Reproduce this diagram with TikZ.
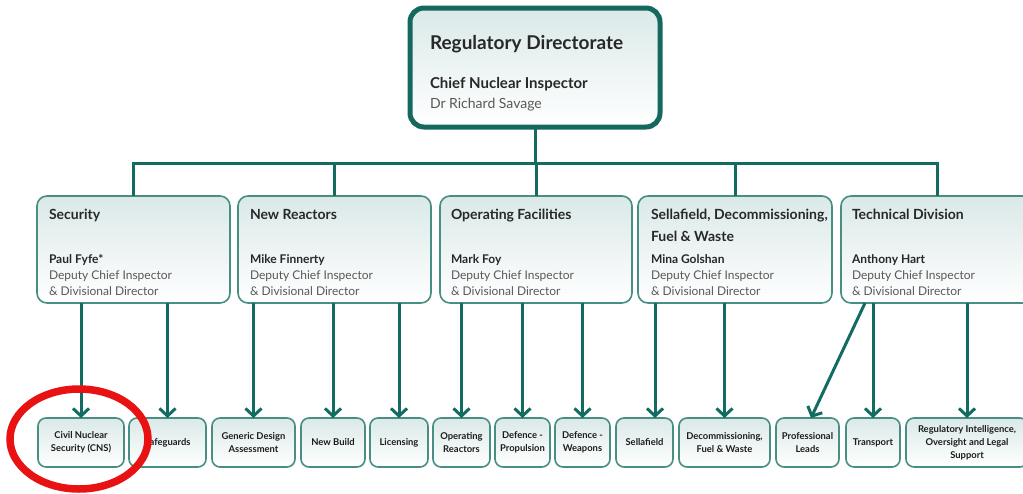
\documentclass[tikz,border=0pt]{standalone}
\usepackage{fontspec}
\setmainfont{Lato}
\usetikzlibrary{arrows.meta}

\definecolor{linkteal}{RGB}{18,108,98}
\definecolor{edgeteal}{RGB}{72,142,130}
\definecolor{headedge}{RGB}{20,104,94}
\definecolor{boxtint}{RGB}{218,233,232}
\definecolor{inkdark}{RGB}{40,40,40}
\definecolor{inkunit}{RGB}{28,28,28}
\definecolor{inkgrey}{RGB}{88,88,88}
\definecolor{ringred}{RGB}{232,18,18}

\tikzset{
  headbox/.style={draw=headedge, line width=5pt, rounded corners=14pt,
    top color=boxtint, bottom color=white, inner sep=0pt, outer sep=0pt},
  divbox/.style={draw=edgeteal, line width=1.6pt, rounded corners=10pt,
    top color=boxtint, bottom color=white, minimum height=107pt,
    inner sep=0pt, outer sep=0pt},
  lowbox/.style={draw=edgeteal, line width=1.6pt, rounded corners=8pt,
    top color=boxtint, bottom color=white, minimum height=49pt,
    inner sep=0pt, outer sep=0pt, align=center, text=inkunit,
    font=\fontsize{9.4}{13.2}\selectfont\bfseries},
  link/.style={draw=linkteal, line width=3pt},
  arrowlink/.style={link, -{Straight Barb[length=7.5pt,width=16pt]}},
  txt/.style={anchor=base west, inner sep=0pt, outer sep=0pt},
  headtitle/.style={txt, font=\fontsize{19}{22}\selectfont\bfseries, text=inkdark},
  headrole/.style={txt, font=\fontsize{15}{18}\selectfont\bfseries, text=inkdark},
  headname/.style={txt, font=\fontsize{14}{17}\selectfont, text=inkgrey},
  divtitle/.style={txt, font=\fontsize{14}{16}\selectfont\bfseries, text=inkdark},
  divname/.style={txt, font=\fontsize{12}{14}\selectfont\bfseries, text=inkdark},
  divrole/.style={txt, font=\fontsize{12}{14}\selectfont, text=inkgrey},
}

% a division box from x=#2 to x=#3
\newcommand\divisionbox[3]{%
  \node[divbox, minimum width={#3-#2}] (#1) at ({(#2+#3)/2},249.5) {};}
% a unit box from x=#2 to x=#3
\newcommand\unitbox[4]{%
  \node[lowbox, minimum width={#3-#2}] (#1) at ({(#2+#3)/2},442.5) {#4};}

\begin{document}
\begin{tikzpicture}[x=1pt, y=-1pt]
\useasboundingbox (0,0) rectangle (1023,493);
\clip (0,0) rectangle (1023,493);
\fill[white] (0,0) rectangle (1023,493);

% directorate
\node[headbox, minimum width=250pt, minimum height=119pt] (dir) at (535,67.5) {};
\node[headtitle] (dirt) at (430,49) {Regulatory Directorate};
\node[headrole] (dirr) at (430,88) {Chief Nuclear Inspector};
\node[headname] (dirn) at (430,108) {Dr Richard Savage};

% divisions
\divisionbox{sec}{37}{230}
\divisionbox{nrx}{238}{431}
\divisionbox{opf}{440}{632}
\divisionbox{sdf}{638}{832}
\divisionbox{tec}{841}{1034}

\node[divtitle] (sect) at (49,219) {Security};
\node[divname]  (secn) at (49,263) {Paul Fyfe*};
\node[divrole]  (secr) at (49,279) {Deputy Chief Inspector};
\node[divrole]  (secd) at (49,295) {\& Divisional Director};

\node[divtitle] (nrxt) at (250,219) {New Reactors};
\node[divname]  (nrxn) at (250,263) {Mike Finnerty};
\node[divrole]  (nrxr) at (250,279) {Deputy Chief Inspector};
\node[divrole]  (nrxd) at (250,295) {\& Divisional Director};

\node[divtitle] (opft) at (451,219) {Operating Facilities};
\node[divname]  (opfn) at (451,263) {Mark Foy};
\node[divrole]  (opfr) at (451,279) {Deputy Chief Inspector};
\node[divrole]  (opfd) at (451,295) {\& Divisional Director};

\node[divtitle] (sdft) at (651,219) {Sellafield, Decommissioning,};
\node[divtitle] (sdfu) at (651,241) {Fuel \& Waste};
\node[divname]  (sdfn) at (651,263) {Mina Golshan};
\node[divrole]  (sdfr) at (651,279) {Deputy Chief Inspector};
\node[divrole]  (sdfd) at (651,295) {\& Divisional Director};

\node[divtitle] (tect) at (852,219) {Technical Division};
\node[divname]  (tecn) at (852,263) {Anthony Hart};
\node[divrole]  (tecr) at (852,279) {Deputy Chief Inspector};
\node[divrole]  (tecd) at (852,295) {\& Divisional Director};

% units
\unitbox{cns}{38}{124}{Civil Nuclear\\Security (CNS)}
\unitbox{safe}{129}{206}{Safeguards}
\unitbox{gda}{212}{295}{Generic Design\\Assessment}
\unitbox{nbld}{301}{365}{New Build}
\unitbox{lic}{370}{428}{Licensing}
\unitbox{opr}{433}{490}{Operating\\Reactors}
\unitbox{dprop}{495}{550}{Defence -\\Propulsion}
\unitbox{dweap}{555}{610}{Defence -\\Weapons}
\unitbox{sfld}{616}{673}{Sellafield}
\unitbox{dfw}{679}{770}{Decommissioning,\\Fuel \& Waste}
\unitbox{prof}{776}{839}{Professional\\Leads}
\unitbox{trn}{846}{900}{Transport}
\unitbox{rio}{906}{1028}{Regulatory Intelligence,\\Oversight and Legal\\Support}

% directorate to divisions
\coordinate (bus) at (535,163);
\draw[link] (dir.south) -- (bus);
\draw[link, line cap=rect] (sec.north |- bus) -- (tec.north |- bus);
\foreach \d in {sec,nrx,opf,sdf,tec} \draw[link] (\d.north |- bus) -- (\d.north);

% divisions to units
\draw[arrowlink] (sec.south -| cns.north) -- (cns.north);
\draw[arrowlink] (sec.south -| safe.north) -- (safe.north);
\draw[arrowlink] (nrx.south -| gda.north) -- (gda.north);
\draw[arrowlink] (nrx.south -| nbld.north) -- (nbld.north);
\draw[arrowlink] (nrx.south -| lic.north) -- (lic.north);
\draw[arrowlink] (opf.south -| opr.north) -- (opr.north);
\draw[arrowlink] (opf.south -| dprop.north) -- (dprop.north);
\draw[arrowlink] (opf.south -| dweap.north) -- (dweap.north);
\draw[arrowlink] ([xshift=10.5pt]sfld.north |- sdf.south) -- ([xshift=10.5pt]sfld.north);
\draw[arrowlink] (sdf.south -| dfw.north) -- (dfw.north);
\draw[arrowlink] ([xshift=-72.5pt]tec.south) -- ([xshift=3.5pt]prof.north);
\draw[arrowlink] (tec.south -| trn.north) -- (trn.north);
\draw[arrowlink] (tec.south -| rio.north) -- (rio.north);

% highlight ring
\draw[ringred, line width=7.5pt] (79,439) ellipse [x radius=69, y radius=50];
\end{tikzpicture}
\end{document}
